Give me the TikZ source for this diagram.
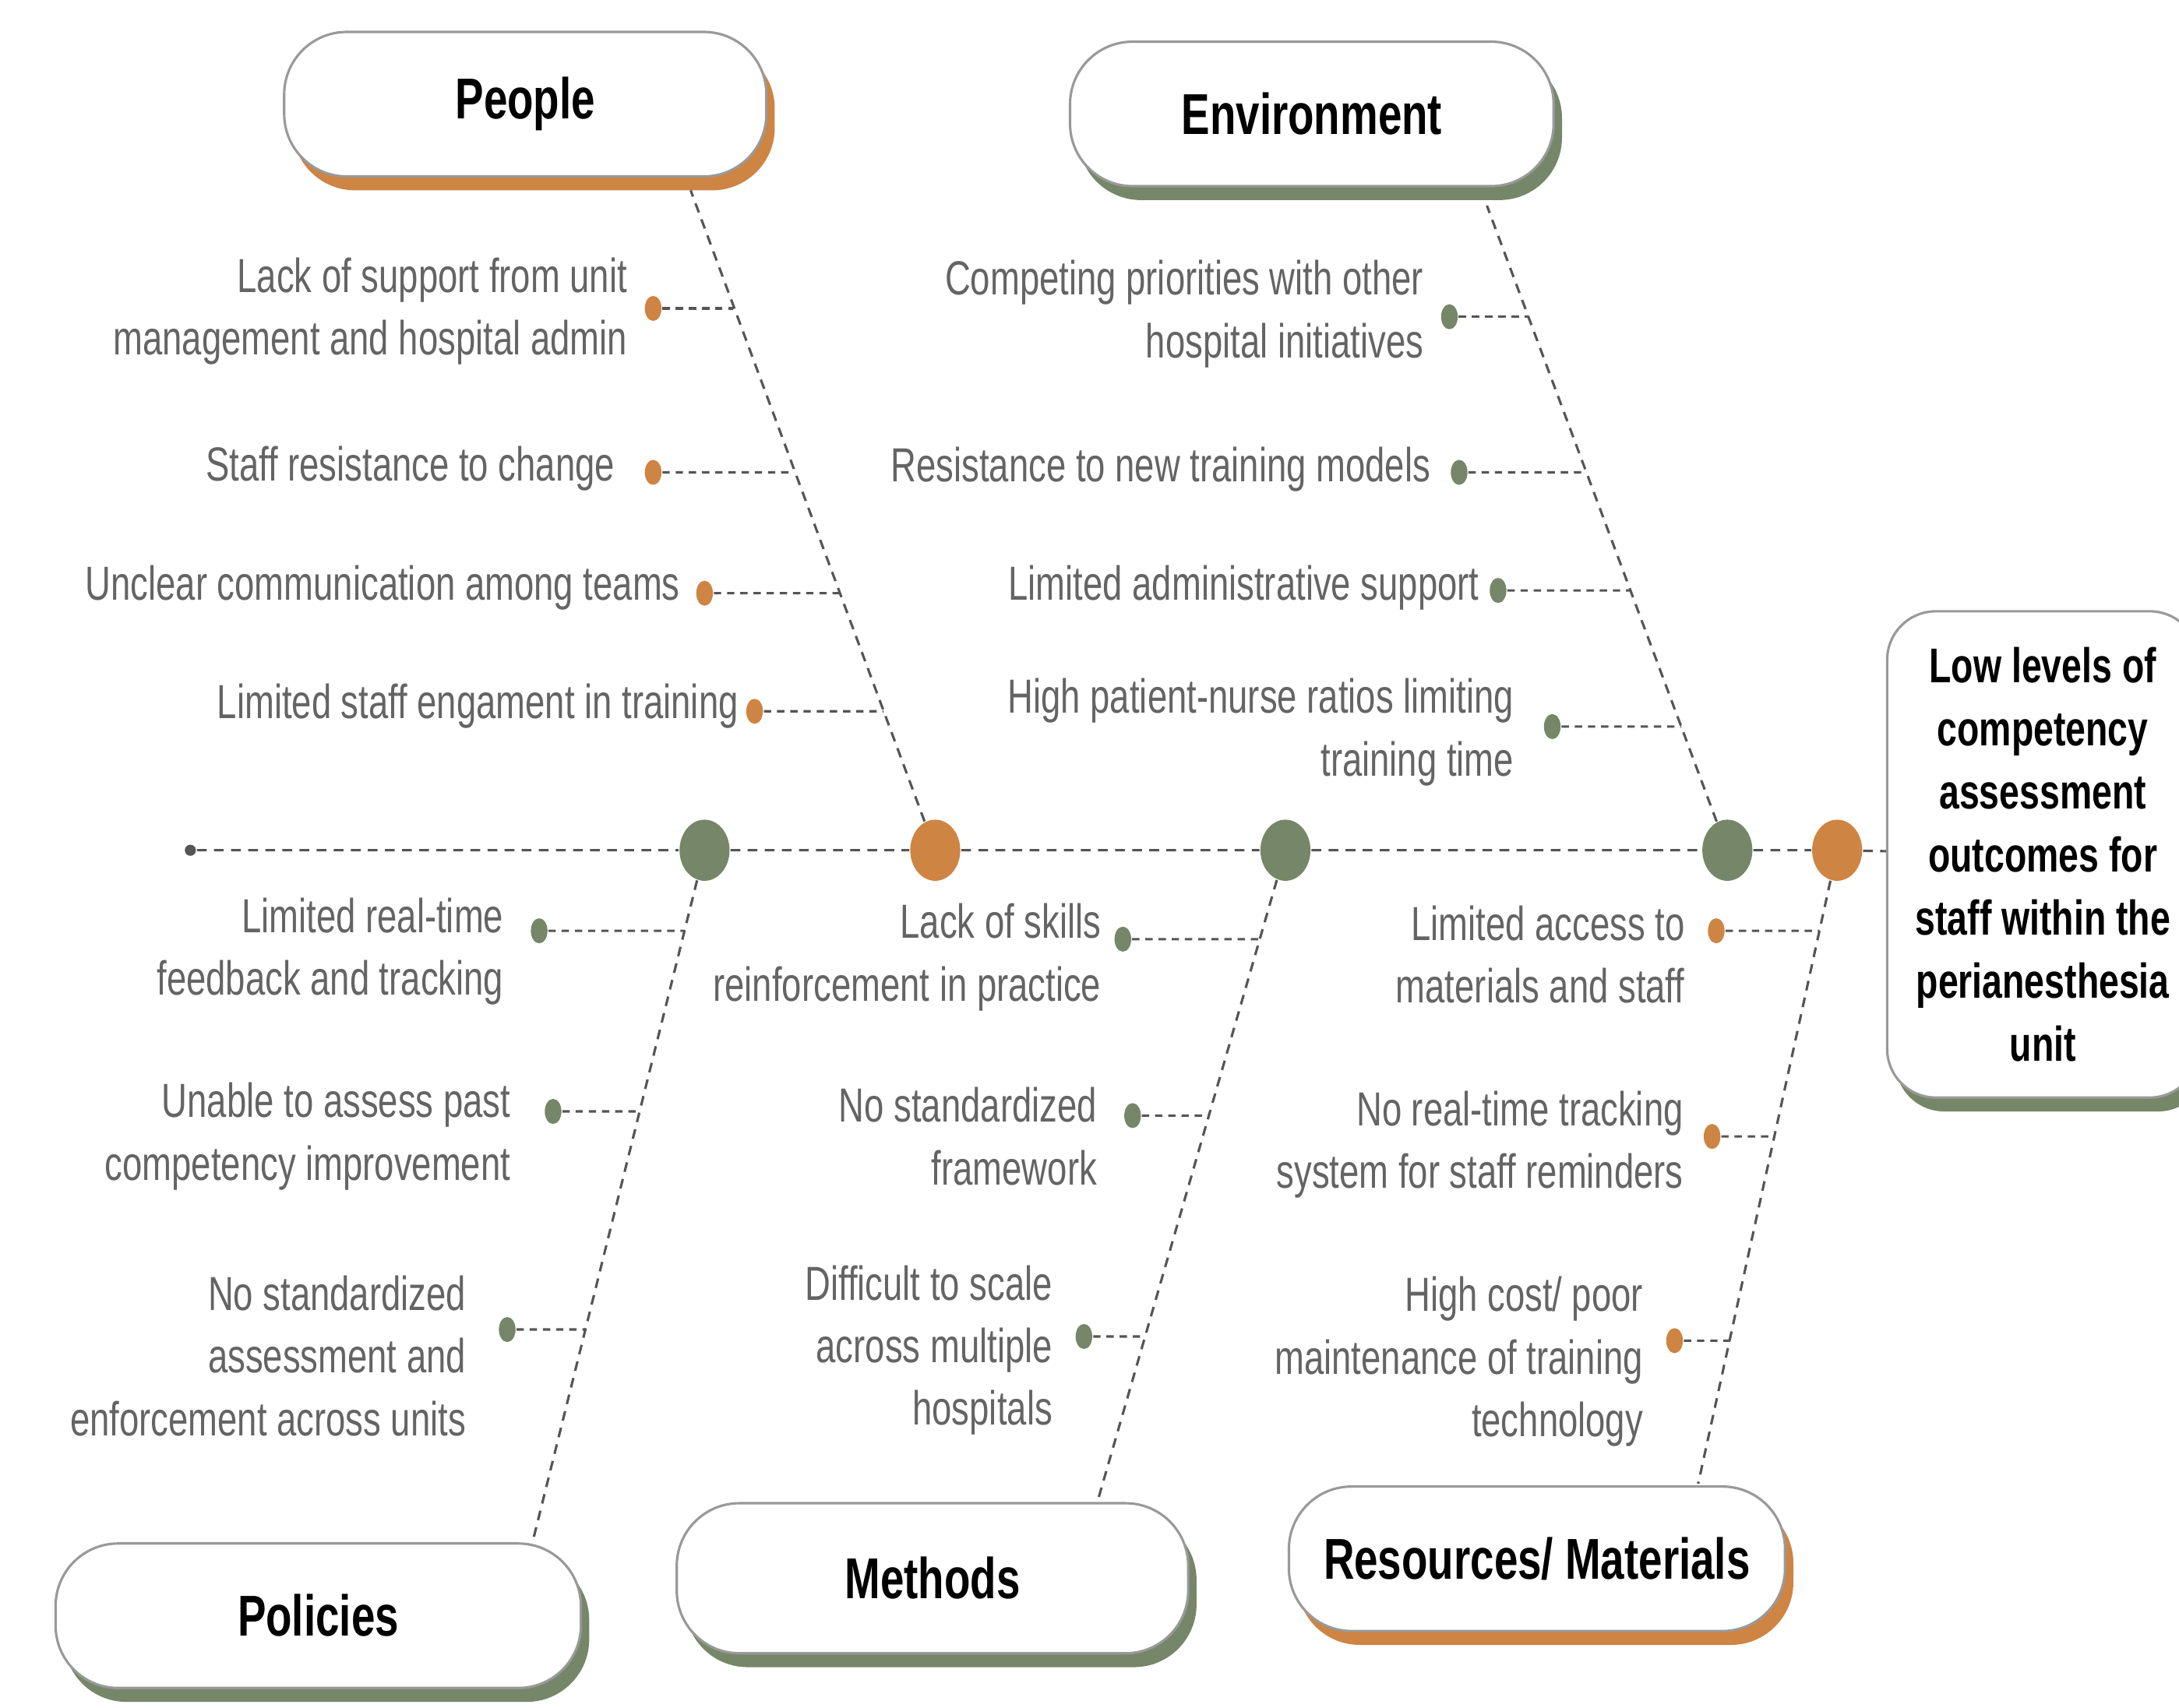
\documentclass[tikz,border=0pt]{standalone}
\usepackage{fontspec}
\setmainfont{Liberation Sans}[FakeStretch=0.74]
\usetikzlibrary{shapes.geometric,shadows}
\definecolor{rust}{RGB}{206,132,66}
\definecolor{sage}{RGB}{118,134,104}
\definecolor{ink}{RGB}{85,85,85}
\definecolor{greytext}{RGB}{100,100,100}

\begin{document}
\begin{tikzpicture}[scale=0.2]
\tikzstyle{every node}+=[inner sep=0pt]
\tikzstyle{cat}=[draw=black!40, line width=0.5pt, fill=white, rounded corners=0.45cm, minimum height=1.04cm, font=\fontsize{11.8}{14}\selectfont\bfseries]
\tikzstyle{rustcat}=[cat, drop shadow={shadow xshift=0.06cm, shadow yshift=-0.1cm, fill=rust, opacity=1}]
\tikzstyle{sagecat}=[cat, drop shadow={shadow xshift=0.06cm, shadow yshift=-0.1cm, fill=sage, opacity=1}]
\tikzstyle{knot}=[ellipse, minimum width=0.36cm, minimum height=0.44cm]
\tikzstyle{bead}=[ellipse, minimum width=0.12cm, minimum height=0.18cm]
\tikzstyle{cause}=[anchor=east, align=right, text=greytext, font=\fontsize{9.8}{12.8}\selectfont]
\tikzstyle{bone}=[ink, line width=0.5pt, dash pattern=on 2pt off 1.5pt]
\tikzstyle{twig}=[ink, line width=0.5pt, dash pattern=on 1.5pt off 1.2pt]
\useasboundingbox (0,0) rectangle (78.4,-61.45);

% category boxes
\node[rustcat, minimum width=3.47cm] (people) at (18.9,-3.75) {People};
\node[sagecat, minimum width=3.48cm] (environment) at (47.2,-4.1) {Environment};
\node[sagecat, minimum width=3.78cm] (policies) at (11.45,-58.15) {Policies};
\node[sagecat, minimum width=3.68cm, minimum height=1.08cm] (methods) at (33.55,-56.8) {Methods};
\node[rustcat, minimum width=3.57cm] (resources) at (55.3,-56.1) {Resources/ Materials};

% effect
\node[cat, minimum width=2.24cm, minimum height=3.5cm, rounded corners=0.35cm, align=center,
  font=\fontsize{10}{12.9}\selectfont\bfseries,
  drop shadow={shadow xshift=0.06cm, shadow yshift=-0.1cm, fill=sage, opacity=1}] (effect) at (73.5,-30.75)
  {Low levels of\\competency\\assessment\\outcomes for\\staff within the\\perianesthesia\\unit};

% spine
\node[circle, fill=ink, minimum size=0.08cm] (tail) at (6.85,-30.6) {};
\node[knot, fill=sage] (k1) at (25.35,-30.6) {};
\node[knot, fill=rust] (k2) at (33.65,-30.6) {};
\node[knot, fill=sage] (k3) at (46.25,-30.6) {};
\node[knot, fill=sage] (k4) at (62.15,-30.6) {};
\node[knot, fill=rust] (k5) at (66.1,-30.6) {};
\draw[bone] (tail) -- (k1) -- (k2) -- (k3) -- (k4) -- (k5) -- (effect);

% bones
\coordinate (pb) at (24.85,-6.85);
\coordinate (eb) at (53.5,-7.4);
\coordinate (lb) at (19.15,-55.55);
\coordinate (mb) at (39.5,-54.0);
\coordinate (rb) at (61.1,-53.4);
\draw[bone] (k2) -- (pb);
\draw[bone] (k4) -- (eb);
\draw[bone] (k1) -- (lb);
\draw[bone] (k3) -- (mb);
\draw[bone] (k5) -- (rb);

% people
\node[bead, fill=rust] (p1) at (23.5,-11.1) {};
\node[cause] (p1t) at (22.6,-11.2) {Lack of support from unit\\management and hospital admin};
\coordinate (p1b) at (26.38,-11.1);
\draw[twig] (p1) -- (p1b);
\node[bead, fill=rust] (p2) at (23.5,-17.0) {};
\node[cause] (p2t) at (22.15,-16.85) {Staff resistance to change};
\coordinate (p2b) at (28.58,-17.0);
\draw[twig] (p2) -- (p2b);
\node[bead, fill=rust] (p3) at (25.35,-21.35) {};
\node[cause] (p3t) at (24.5,-21.15) {Unclear communication among teams};
\coordinate (p3b) at (30.2,-21.35);
\draw[twig] (p3) -- (p3b);
\node[bead, fill=rust] (p4) at (27.15,-25.6) {};
\node[cause] (p4t) at (26.6,-25.4) {Limited staff engament in training};
\coordinate (p4b) at (31.79,-25.6);
\draw[twig] (p4) -- (p4b);

% environment
\node[bead, fill=sage] (e1) at (52.15,-11.4) {};
\node[cause] (e1t) at (51.25,-11.3) {Competing priorities with other\\hospital initiatives};
\coordinate (e1b) at (54.99,-11.4);
\draw[twig] (e1) -- (e1b);
\node[bead, fill=sage] (e2) at (52.5,-17.0) {};
\node[cause] (e2t) at (51.5,-16.9) {Resistance to new training models};
\coordinate (e2b) at (57.08,-17.0);
\draw[twig] (e2) -- (e2b);
\node[bead, fill=sage] (e3) at (53.9,-21.25) {};
\node[cause] (e3t) at (53.25,-21.15) {Limited administrative support};
\coordinate (e3b) at (58.67,-21.25);
\draw[twig] (e3) -- (e3b);
\node[bead, fill=sage] (e4) at (55.85,-26.15) {};
\node[cause] (e4t) at (54.5,-26.35) {High patient-nurse ratios limiting\\training time};
\coordinate (e4b) at (60.49,-26.15);
\draw[twig] (e4) -- (e4b);

% policies
\node[bead, fill=sage] (l1) at (19.4,-33.5) {};
\node[cause] (l1t) at (18.15,-34.25) {Limited real-time\\feedback and tracking};
\coordinate (l1b) at (24.63,-33.5);
\draw[twig] (l1) -- (l1b);
\node[bead, fill=sage] (l2) at (19.9,-40.0) {};
\node[cause] (l2t) at (18.4,-40.9) {Unable to assess past\\competency improvement};
\coordinate (l2b) at (23.02,-40.0);
\draw[twig] (l2) -- (l2b);
\node[bead, fill=sage] (l3) at (18.25,-47.85) {};
\node[cause] (l3t) at (16.8,-48.8) {No standardized\\assessment and\\enforcement across units};
\coordinate (l3b) at (21.07,-47.85);
\draw[twig] (l3) -- (l3b);

% methods
\node[bead, fill=sage] (m1) at (40.4,-33.8) {};
\node[cause] (m1t) at (39.65,-34.45) {Lack of skills\\reinforcement in practice};
\coordinate (m1b) at (45.33,-33.8);
\draw[twig] (m1) -- (m1b);
\node[bead, fill=sage] (m2) at (40.75,-40.15) {};
\node[cause] (m2t) at (39.5,-40.9) {No standardized\\framework};
\coordinate (m2b) at (43.5,-40.15);
\draw[twig] (m2) -- (m2b);
\node[bead, fill=sage] (m3) at (39.0,-48.1) {};
\node[cause] (m3t) at (37.9,-48.6) {Difficult to scale\\across multiple\\hospitals};
\coordinate (m3b) at (41.23,-48.1);
\draw[twig] (m3) -- (m3b);

% resources
\node[bead, fill=rust] (r1) at (61.75,-33.5) {};
\node[cause] (r1t) at (60.65,-34.35) {Limited access to\\materials and staff};
\coordinate (r1b) at (65.47,-33.5);
\draw[twig] (r1) -- (r1b);
\node[bead, fill=rust] (r2) at (61.6,-40.9) {};
\node[cause] (r2t) at (60.6,-41.2) {No real-time tracking\\system for staff reminders};
\coordinate (r2b) at (63.85,-40.9);
\draw[twig] (r2) -- (r2b);
\node[bead, fill=rust] (r3) at (60.25,-48.25) {};
\node[cause] (r3t) at (59.15,-49.0) {High cost/ poor\\maintenance of training\\technology};
\coordinate (r3b) at (62.25,-48.25);
\draw[twig] (r3) -- (r3b);
\end{tikzpicture}
\end{document}
